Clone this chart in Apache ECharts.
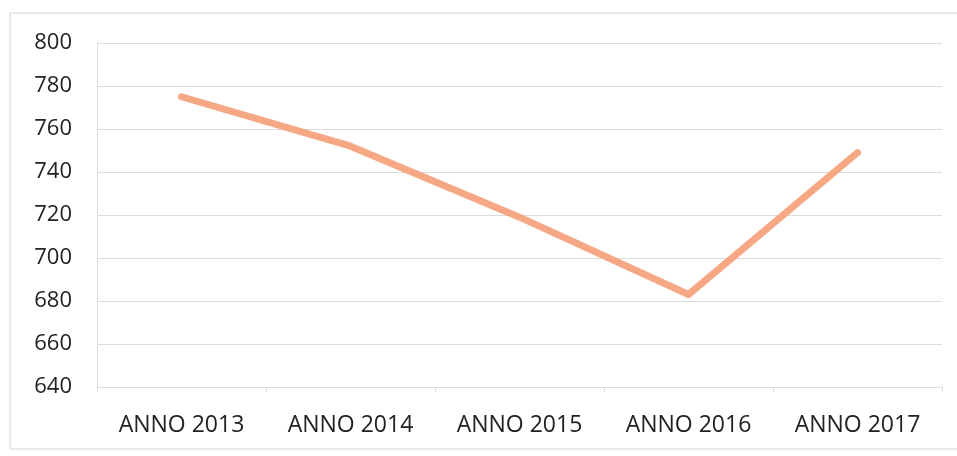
<!DOCTYPE html>
<html>
<head>
<meta charset="utf-8">
<script src="https://cdn.jsdelivr.net/npm/echarts@6/dist/echarts.min.js"></script>
<style>
  html, body { margin: 0; padding: 0; background: #fff; }
  #chart { width: 957px; height: 456px; }
</style>
</head>
<body>
<div id="chart"></div>
<script>
const categories = ["ANNO 2013", "ANNO 2014", "ANNO 2015", "ANNO 2016", "ANNO 2017"];
const values = [775, 752, 719, 683, 749];

const chart = echarts.init(document.getElementById("chart"));

chart.setOption({
  backgroundColor: "#fff",
  animation: false,
  graphic: [
    {
      type: "rect",
      shape: { x: 10, y: 13, width: 960, height: 436 },
      style: { fill: "none", stroke: "#d4d4d4", lineWidth: 1 },
    },
  ],
  grid: { left: 97, right: 15, top: 43, bottom: 69 },
  xAxis: {
    type: "category",
    data: categories,
    boundaryGap: true,
    axisLine: { lineStyle: { color: "#dcdcdc" } },
    axisTick: { show: true, lineStyle: { color: "#dcdcdc" } },
    axisLabel: {
      color: "#222",
      fontFamily: "Open Sans",
      fontSize: 23,
      margin: 27,
    },
  },
  yAxis: {
    type: "value",
    min: 640,
    max: 800,
    interval: 20,
    axisLine: { show: true, lineStyle: { color: "#dcdcdc" } },
    axisTick: { show: false },
    splitLine: { lineStyle: { color: "#dcdcdc" } },
    axisLabel: {
      color: "#222",
      fontFamily: "Open Sans",
      fontSize: 22,
      margin: 25,
    },
  },
  series: [
    {
      type: "line",
      data: values,
      symbol: "none",
      lineStyle: { color: "#f6a884", width: 7, cap: "round", join: "round" },
    },
  ],
});
</script>
</body>
</html>
